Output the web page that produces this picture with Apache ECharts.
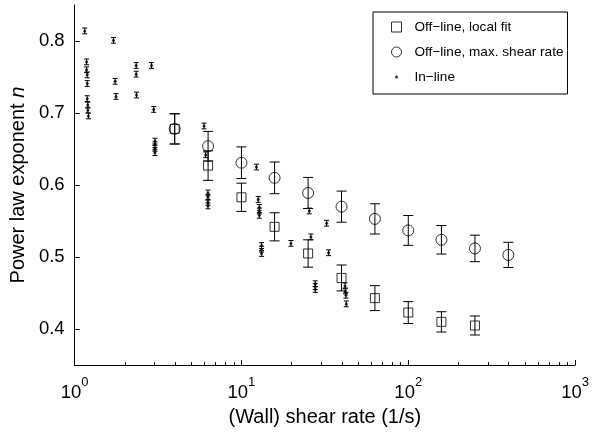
<!DOCTYPE html>
<html>
<head>
<meta charset="utf-8">
<script src="https://cdn.jsdelivr.net/npm/echarts@6/dist/echarts.min.js"></script>
<style>
  html, body { margin: 0; padding: 0; background: #fff; }
  #chart { width: 592px; height: 432px; }
</style>
</head>
<body>
<div id="chart"></div>
<script>
// off-line, local fit (squares)
const fitRates = [3.98, 6.31, 10, 15.8, 25.1, 39.8, 63.1, 100, 158, 251];
const fitN = [0.678, 0.627, 0.583, 0.542, 0.505, 0.471, 0.443, 0.423, 0.410, 0.405];
const fitErr = [0.021, 0.0205, 0.0196, 0.0195, 0.019, 0.018, 0.0173, 0.0152, 0.0141, 0.0132];

// off-line, max. shear rate (circles)
const maxRates = [3.98, 6.31, 10, 15.8, 25.1, 39.8, 63.1, 100, 158, 251, 398];
const maxN = [0.678, 0.654, 0.631, 0.610, 0.589, 0.570, 0.553, 0.537, 0.524, 0.512, 0.503];
const maxErr = [0.021, 0.0205, 0.022, 0.022, 0.0216, 0.0216, 0.021, 0.0207, 0.0198, 0.0184, 0.0175];

// in-line (dots)
const inlineRates = [1.15, 1.18, 1.18, 1.19, 1.19, 1.19, 1.2, 1.2, 1.21,
  1.71, 1.75, 1.77, 2.34, 2.34, 2.35, 2.89, 2.98, 3.03, 3.03, 3.03, 3.03,
  5.97, 6.1, 6.3, 6.3, 6.3, 6.3, 12.3, 12.6, 12.8, 12.8, 12.8, 13.2, 13.2, 13.2,
  19.8, 25.5, 26.1, 27.7, 27.7, 27.7, 32.4, 33.3, 41.8, 42, 42.3, 42.5];
const inlineN = [0.814, 0.771, 0.760, 0.753, 0.741, 0.720, 0.711, 0.704, 0.696,
  0.801, 0.744, 0.723, 0.766, 0.754, 0.725, 0.766, 0.705, 0.661, 0.656, 0.651, 0.645,
  0.682, 0.642, 0.589, 0.583, 0.576, 0.571, 0.625, 0.580, 0.569, 0.564, 0.558, 0.516, 0.511, 0.505,
  0.519, 0.564, 0.528, 0.463, 0.459, 0.455, 0.547, 0.506, 0.460, 0.453, 0.447, 0.435];
const inlineErr = 0.004;

// ticks
const xMajorTicks = [1, 10, 100, 1000];
const xMinorTicks = [2, 3, 4, 5, 6, 7, 8, 9, 20, 30, 40, 50, 60, 70, 80, 90,
  200, 300, 400, 500, 600, 700, 800, 900];
const yTicks = [0.4, 0.5, 0.6, 0.7, 0.8];

const FONT = "'Liberation Sans', Arial, Helvetica, sans-serif";
// small dot for the legend entry of the in-line series
const DOT_ICON = 'image://data:image/svg+xml;utf8,' + encodeURIComponent(
  '<svg xmlns="http://www.w3.org/2000/svg" width="10" height="10"><circle cx="5" cy="5" r="1.5" fill="black"/></svg>');

function errorBars(rates, vals, errs, cap) {
  return {
    type: 'custom',
    silent: true,
    z: 1,
    encode: { x: 0, y: [1, 2] },
    data: rates.map(function(r, i) {
      const e = Array.isArray(errs) ? errs[i] : errs;
      return [r, vals[i] - e, vals[i] + e];
    }),
    renderItem: function(params, api) {
      const lo = api.coord([api.value(0), api.value(1)]);
      const hi = api.coord([api.value(0), api.value(2)]);
      const s = { stroke: '#000', lineWidth: 1 };
      return {
        type: 'group',
        children: [
          { type: 'line', shape: { x1: lo[0], y1: lo[1], x2: hi[0], y2: hi[1] }, style: s },
          { type: 'line', shape: { x1: lo[0] - cap, y1: lo[1], x2: lo[0] + cap, y2: lo[1] }, style: s },
          { type: 'line', shape: { x1: hi[0] - cap, y1: hi[1], x2: hi[0] + cap, y2: hi[1] }, style: s }
        ]
      };
    }
  };
}

function pairs(xs, ys) {
  return xs.map(function(x, i) { return [x, ys[i]]; });
}

const em = echarts.init(document.getElementById('chart'));

em.setOption({
  animation: false,
  backgroundColor: '#fff',
  grid: { left: 72, right: 16, top: 5, bottom: 61 },
  legend: {
    orient: 'vertical',
    left: 373,
    top: 12,
    padding: [7, 4, 9, 18],
    itemGap: 9,
    itemWidth: 10,
    itemHeight: 10,
    borderColor: '#000',
    borderWidth: 1,
    backgroundColor: '#fff',
    selectedMode: false,
    textStyle: { fontFamily: FONT, fontSize: 13.6, lineHeight: 16, color: '#000', padding: [0, 0, 0, 8] },
    data: [
      { name: 'Off−line, local fit', icon: 'rect',
        itemStyle: { color: 'rgba(0,0,0,0)', borderColor: '#000', borderWidth: 1 } },
      { name: 'Off−line, max. shear rate', icon: 'circle',
        itemStyle: { color: 'rgba(0,0,0,0)', borderColor: '#000', borderWidth: 1 } },
      { name: 'In−line', icon: DOT_ICON }
    ]
  },
  xAxis: [
    {
      type: 'log',
      min: 1,
      max: 1000,
      name: '(Wall) shear rate (1/s)',
      nameLocation: 'middle',
      nameGap: 33,
      nameTextStyle: { fontFamily: FONT, fontSize: 20, color: '#000' },
      axisLine: { lineStyle: { color: '#000', width: 1 } },
      axisTick: { inside: true, length: 5, customValues: xMajorTicks, lineStyle: { color: '#000' } },
      axisLabel: {
        customValues: xMajorTicks,
        margin: 11,
        formatter: function(v) {
          return '{b|10}{s|' + Math.round(Math.log10(v)) + '}';
        },
        rich: {
          b: { fontFamily: FONT, fontSize: 18.5, color: '#000', lineHeight: 26, verticalAlign: 'bottom' },
          s: { fontFamily: FONT, fontSize: 13, color: '#000', lineHeight: 14, verticalAlign: 'top' }
        }
      },
      splitLine: { show: false }
    },
    {
      type: 'log',
      min: 1,
      max: 1000,
      position: 'bottom',
      axisLine: { show: false },
      axisTick: { inside: true, length: 3, customValues: xMinorTicks, lineStyle: { color: '#000' } },
      axisLabel: { show: false },
      splitLine: { show: false }
    }
  ],
  yAxis: {
    type: 'value',
    min: 0.35,
    max: 0.85,
    name: '{a|Power law exponent }{i|n}',
    nameLocation: 'middle',
    nameGap: 41,
    nameTextStyle: {
      rich: {
        a: { fontFamily: FONT, fontSize: 20, color: '#000' },
        i: { fontFamily: FONT, fontSize: 20, color: '#000', fontStyle: 'italic' }
      }
    },
    axisLine: { show: true, lineStyle: { color: '#000', width: 1 } },
    axisTick: { inside: true, length: 5, customValues: yTicks, lineStyle: { color: '#000' } },
    axisLabel: {
      customValues: yTicks,
      margin: 10,
      fontFamily: FONT,
      fontSize: 18.5,
      color: '#000',
      formatter: function(v) { return v.toFixed(1); }
    },
    splitLine: { show: false }
  },
  series: [
    errorBars(fitRates, fitN, fitErr, 5),
    errorBars(maxRates, maxN, maxErr, 5),
    errorBars(inlineRates, inlineN, inlineErr, 2.5),
    {
      name: 'Off−line, local fit',
      type: 'scatter',
      z: 3,
      symbol: 'rect',
      symbolSize: 9,
      itemStyle: { color: 'rgba(0,0,0,0)', borderColor: '#000', borderWidth: 1 },
      data: pairs(fitRates, fitN)
    },
    {
      name: 'Off−line, max. shear rate',
      type: 'scatter',
      z: 3,
      symbol: 'circle',
      symbolSize: 11,
      itemStyle: { color: 'rgba(0,0,0,0)', borderColor: '#000', borderWidth: 1 },
      data: pairs(maxRates, maxN)
    },
    {
      name: 'In−line',
      type: 'scatter',
      z: 3,
      symbol: 'circle',
      symbolSize: 3,
      itemStyle: { color: '#000' },
      data: pairs(inlineRates, inlineN)
    }
  ]
});
</script>
</body>
</html>
